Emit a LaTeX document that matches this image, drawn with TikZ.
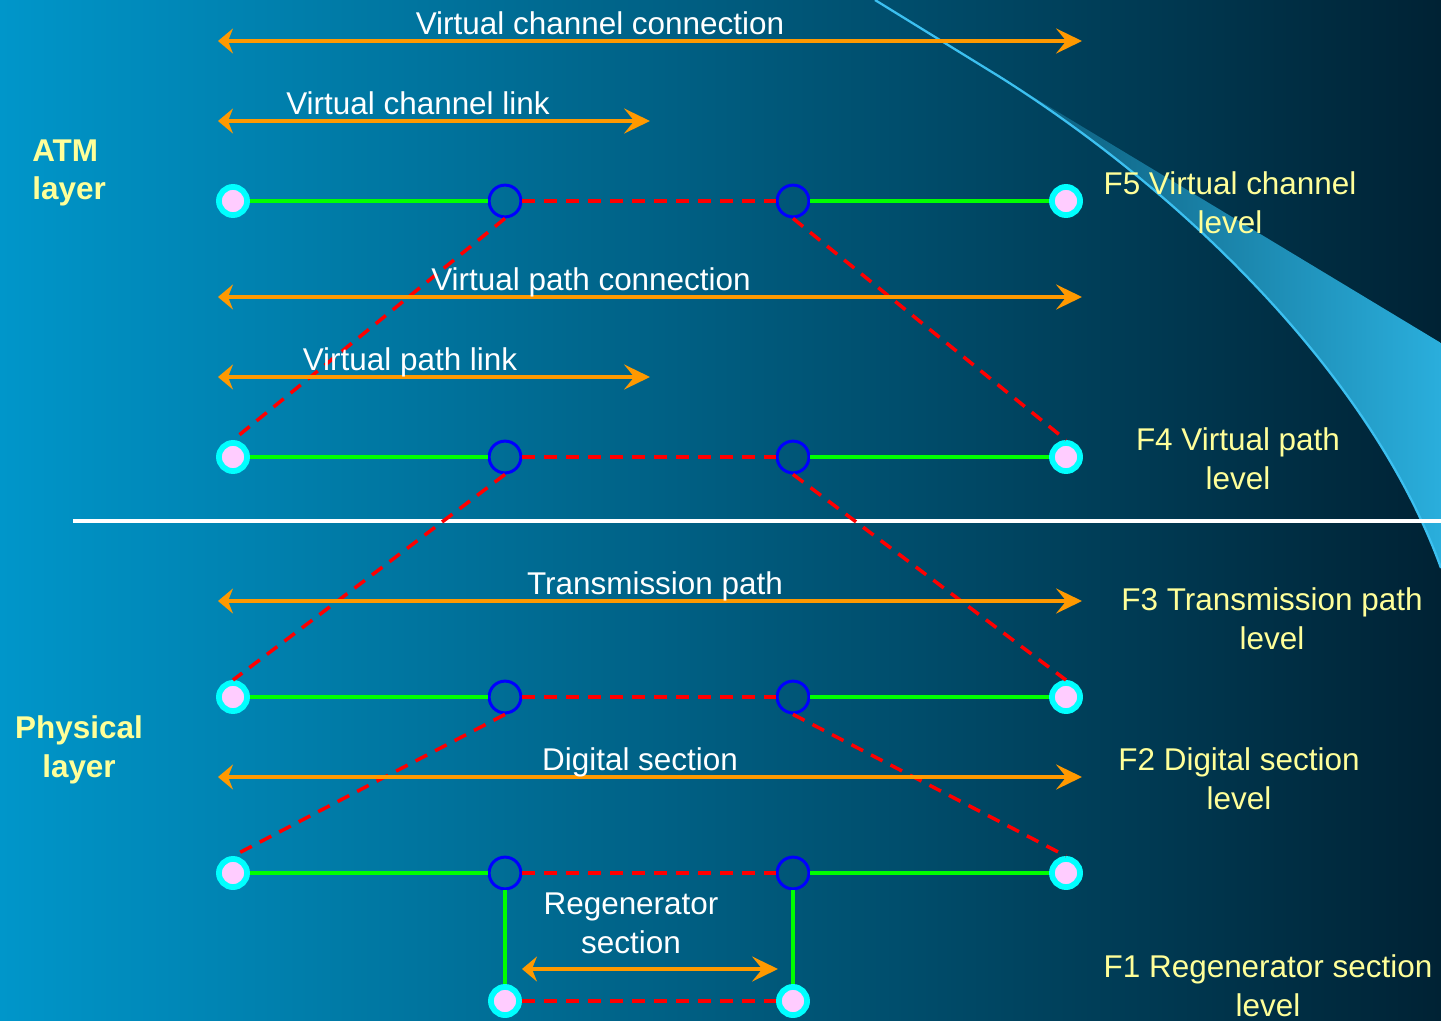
\documentclass[tikz,border=0pt]{standalone}
\usepackage{fontspec}
\setmainfont{Liberation Sans}
\usetikzlibrary{arrows.meta}

\definecolor{bgleft}{RGB}{0,150,202}
\definecolor{bgmid}{RGB}{0,108,148}
\definecolor{bgright}{RGB}{0,34,52}
\definecolor{swooshdark}{RGB}{10,88,118}
\definecolor{swooshlight}{RGB}{42,174,220}
\definecolor{swooshline}{RGB}{60,192,240}
\definecolor{arrorange}{RGB}{255,153,0}
\definecolor{lvlyellow}{RGB}{255,255,153}
\definecolor{endpink}{RGB}{255,204,255}
\definecolor{endcyan}{RGB}{0,255,255}
\definecolor{linegreen}{RGB}{0,255,0}
\definecolor{lineblue}{RGB}{0,0,255}
\definecolor{linered}{RGB}{255,0,0}

\tikzset{
  endpt/.style={circle, inner sep=0pt, minimum size=16pt, fill=endpink, draw=endcyan, line width=3.3pt},
  midpt/.style={circle, inner sep=0pt, minimum size=18.1pt, draw=lineblue, line width=1.7pt},
  greenline/.style={linegreen, line width=2pt},
  redline/.style={linered, line width=2pt, dash pattern=on 7.4pt off 5.1pt},
  oarrow/.style={arrorange, line width=2pt,
    {Stealth[length=8.5pt, width=14.2pt, inset=2.8pt]}-{Stealth[length=14.7pt, width=14.2pt, inset=5.7pt]}},
  lbl/.style={text=white, inner sep=0pt, anchor=base},
  lvl/.style={text=lvlyellow, inner sep=0pt, align=center},
  layerb/.style={text=lvlyellow, inner sep=0pt, font=\fontsize{17.9}{22.1}\selectfont\bfseries}
}

\begin{document}
\begin{tikzpicture}[x=0.02cm, y=-0.02cm, font=\fontsize{17.9}{22.1}\selectfont]
  % Canvas and background
  \useasboundingbox (0,0) rectangle (1441,1021);
  \shade[left color=bgleft, middle color=bgmid, right color=bgright] (0,0) rectangle (1441,1021);

  % Light swoosh in the upper right corner
  \begin{scope}
    \clip (0,0) rectangle (1441,1021);
    \shade[left color=swooshdark, right color=swooshlight]
      (1000,77) -- (1441,343) -- (1441,568) .. controls (1375,385) and (1195,200) .. (1000,77) -- cycle;
    \draw[swooshline, line width=1.3pt]
      (875,0) -- (1000,77) .. controls (1195,200) and (1375,385) .. (1441,568);
  \end{scope}

  % Boundary between ATM layer and physical layer
  \draw[white, line width=2pt] (73,521) -- (1441,521);

  % Columns and levels
  \def\xl{233}
  \def\xa{505}
  \def\xb{793}
  \def\xr{1066}
  \def\yvc{201}
  \def\yvp{457}
  \def\ytp{697}
  \def\yds{873}
  \def\yrg{1001}

  % End points and intermediate points
  \node[endpt] (vcL) at (\xl,\yvc) {};
  \node[midpt] (vcA) at (\xa,\yvc) {};
  \node[midpt] (vcB) at (\xb,\yvc) {};
  \node[endpt] (vcR) at (\xr,\yvc) {};

  \node[endpt] (vpL) at (\xl,\yvp) {};
  \node[midpt] (vpA) at (\xa,\yvp) {};
  \node[midpt] (vpB) at (\xb,\yvp) {};
  \node[endpt] (vpR) at (\xr,\yvp) {};

  \node[endpt] (tpL) at (\xl,\ytp) {};
  \node[midpt] (tpA) at (\xa,\ytp) {};
  \node[midpt] (tpB) at (\xb,\ytp) {};
  \node[endpt] (tpR) at (\xr,\ytp) {};

  \node[endpt] (dsL) at (\xl,\yds) {};
  \node[midpt] (dsA) at (\xa,\yds) {};
  \node[midpt] (dsB) at (\xb,\yds) {};
  \node[endpt] (dsR) at (\xr,\yds) {};

  \node[endpt] (rgL) at (\xa,\yrg) {};
  \node[endpt] (rgR) at (\xb,\yrg) {};

  % Green segments
  \draw[greenline] (vcL) -- (vcA);
  \draw[greenline] (vcB) -- (vcR);
  \draw[greenline] (vpL) -- (vpA);
  \draw[greenline] (vpB) -- (vpR);
  \draw[greenline] (tpL) -- (tpA);
  \draw[greenline] (tpB) -- (tpR);
  \draw[greenline] (dsL) -- (dsA);
  \draw[greenline] (dsB) -- (dsR);
  \draw[greenline] (dsA) -- (rgL);
  \draw[greenline] (dsB) -- (rgR);

  % Red dashed segments
  \draw[redline] (vcA) -- (vcB);
  \draw[redline] (vpA) -- (vpB);
  \draw[redline] (tpA) -- (tpB);
  \draw[redline] (dsA) -- (dsB);
  \draw[redline] (rgL) -- (rgR);
  \draw[redline] (vcA.south) -- (vpL.north);
  \draw[redline] (vcB.south) -- (vpR.north);
  \draw[redline] (vpA.south) -- (tpL.north);
  \draw[redline] (vpB.south) -- (tpR.north);
  \draw[redline] (tpA.south) -- (dsL.north);
  \draw[redline] (tpB.south) -- (dsR.north);

  % Arrow ends
  \def\al{218}
  \def\ar{1082}
  \def\am{650}
  \coordinate (vccL) at (\al,41);   \coordinate (vccR) at (\ar,41);
  \coordinate (vclL) at (\al,121);  \coordinate (vclR) at (\am,121);
  \coordinate (vpcL) at (\al,297);  \coordinate (vpcR) at (\ar,297);
  \coordinate (vplL) at (\al,377);  \coordinate (vplR) at (\am,377);
  \coordinate (tpaL) at (\al,601);  \coordinate (tpaR) at (\ar,601);
  \coordinate (dsaL) at (\al,777);  \coordinate (dsaR) at (\ar,777);
  \coordinate (rgaL) at (522,969);  \coordinate (rgaR) at (778,969);

  % Orange double arrows
  \draw[oarrow] (vccL) -- (vccR);
  \draw[oarrow] (vclL) -- (vclR);
  \draw[oarrow] (vpcL) -- (vpcR);
  \draw[oarrow] (vplL) -- (vplR);
  \draw[oarrow] (tpaL) -- (tpaR);
  \draw[oarrow] (dsaL) -- (dsaR);
  \draw[oarrow] (rgaL) -- (rgaR);

  % Arrow labels
  \node[lbl] (vccT) at (600,34) {Virtual channel connection};
  \node[lbl] (vclT) at (418,114) {Virtual channel link};
  \node[lbl] (vpcT) at (591,290) {Virtual path connection};
  \node[lbl] (vplT) at (410,370) {Virtual path link};
  \node[lbl] (tpaT) at (655,594) {Transmission path};
  \node[lbl] (dsaT) at (640,770) {Digital section};
  \node[text=white, inner sep=0pt, align=center] (rgaT) at (631,923) {Regenerator\\section};

  % Level labels
  \node[lvl] (f5) at (1230,203) {F5 Virtual channel\\level};
  \node[lvl] (f4) at (1238,459) {F4 Virtual path\\level};
  \node[lvl] (f3) at (1272,619) {F3 Transmission path\\level};
  \node[lvl] (f2) at (1239,779) {F2 Digital section\\level};
  \node[lvl] (f1) at (1268,986) {F1 Regenerator section\\level};

  % Layer labels
  \node[layerb, align=left, anchor=west] (atm) at (32,173) {ATM\\layer};
  \node[layerb, align=center] (phy) at (79,750) {Physical\\layer};

\end{tikzpicture}
\end{document}
